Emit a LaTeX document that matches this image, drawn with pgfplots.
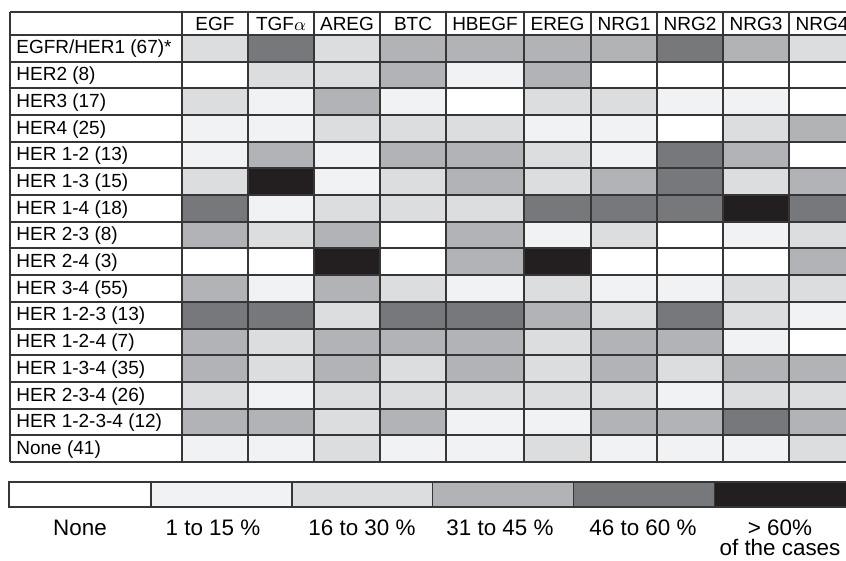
\documentclass[border=0pt]{standalone}
\usepackage{pgfplots}
\pgfplotsset{compat=1.18}
\usepackage{fontspec}
\setmainfont{Liberation Sans}
\definecolor{gridline}{HTML}{363636}

\newcommand{\cellfont}{\fontsize{9.5}{11}\selectfont}
\newcommand{\keyfont}{\fontsize{11.2}{12}\selectfont}

\begin{document}
\begin{tikzpicture}
\begin{axis}[
  scale only axis, width=423pt, height=280.5pt,
  xmin=0, xmax=846, ymin=0, ymax=561, y dir=reverse,
  hide axis,
  colormap={share}{rgb255(0)=(255,255,255) rgb255(1)=(241,242,244)
    rgb255(2)=(220,221,223) rgb255(3)=(178,179,182)
    rgb255(4)=(119,120,124) rgb255(5)=(35,31,32)},
  point meta min=0, point meta max=5,
]
% share of cases per receptor profile (rows) and ligand (columns):
% 0 none, 1 = 1-15%, 2 = 16-30%, 3 = 31-45%, 4 = 46-60%, 5 = >60%
% each vertex carries the class of the cell to its lower right
\addplot[surf, shader=flat corner, mesh/cols=11, point meta=explicit] coordinates {
(182,35)[2] (248,35)[4] (314,35)[2] (380,35)[3] (446,35)[3] (524,35)[3] (591,35)[3] (657,35)[4] (723,35)[3] (789,35)[2] (855,35)[0]
(182,61.69)[0] (248,61.69)[2] (314,61.69)[2] (380,61.69)[3] (446,61.69)[1] (524,61.69)[3] (591,61.69)[0] (657,61.69)[0] (723,61.69)[0] (789,61.69)[0] (855,61.69)[0]
(182,88.38)[2] (248,88.38)[1] (314,88.38)[3] (380,88.38)[1] (446,88.38)[0] (524,88.38)[2] (591,88.38)[2] (657,88.38)[1] (723,88.38)[1] (789,88.38)[0] (855,88.38)[0]
(182,115.06)[1] (248,115.06)[1] (314,115.06)[2] (380,115.06)[2] (446,115.06)[2] (524,115.06)[1] (591,115.06)[1] (657,115.06)[0] (723,115.06)[2] (789,115.06)[3] (855,115.06)[0]
(182,141.75)[1] (248,141.75)[3] (314,141.75)[1] (380,141.75)[3] (446,141.75)[3] (524,141.75)[2] (591,141.75)[1] (657,141.75)[4] (723,141.75)[3] (789,141.75)[0] (855,141.75)[0]
(182,168.44)[2] (248,168.44)[5] (314,168.44)[1] (380,168.44)[2] (446,168.44)[3] (524,168.44)[2] (591,168.44)[3] (657,168.44)[4] (723,168.44)[2] (789,168.44)[3] (855,168.44)[0]
(182,195.13)[4] (248,195.13)[1] (314,195.13)[2] (380,195.13)[2] (446,195.13)[2] (524,195.13)[4] (591,195.13)[4] (657,195.13)[4] (723,195.13)[5] (789,195.13)[4] (855,195.13)[0]
(182,221.81)[3] (248,221.81)[2] (314,221.81)[3] (380,221.81)[0] (446,221.81)[3] (524,221.81)[1] (591,221.81)[2] (657,221.81)[0] (723,221.81)[1] (789,221.81)[2] (855,221.81)[0]
(182,248.5)[0] (248,248.5)[0] (314,248.5)[5] (380,248.5)[0] (446,248.5)[3] (524,248.5)[5] (591,248.5)[0] (657,248.5)[0] (723,248.5)[0] (789,248.5)[3] (855,248.5)[0]
(182,275.19)[3] (248,275.19)[1] (314,275.19)[3] (380,275.19)[2] (446,275.19)[1] (524,275.19)[2] (591,275.19)[1] (657,275.19)[1] (723,275.19)[2] (789,275.19)[2] (855,275.19)[0]
(182,301.88)[4] (248,301.88)[4] (314,301.88)[2] (380,301.88)[4] (446,301.88)[4] (524,301.88)[3] (591,301.88)[2] (657,301.88)[4] (723,301.88)[2] (789,301.88)[1] (855,301.88)[0]
(182,328.56)[3] (248,328.56)[2] (314,328.56)[3] (380,328.56)[3] (446,328.56)[3] (524,328.56)[2] (591,328.56)[3] (657,328.56)[3] (723,328.56)[1] (789,328.56)[0] (855,328.56)[0]
(182,355.25)[3] (248,355.25)[2] (314,355.25)[3] (380,355.25)[2] (446,355.25)[3] (524,355.25)[2] (591,355.25)[3] (657,355.25)[2] (723,355.25)[3] (789,355.25)[3] (855,355.25)[0]
(182,381.94)[2] (248,381.94)[1] (314,381.94)[2] (380,381.94)[2] (446,381.94)[2] (524,381.94)[2] (591,381.94)[2] (657,381.94)[1] (723,381.94)[2] (789,381.94)[2] (855,381.94)[0]
(182,408.63)[3] (248,408.63)[3] (314,408.63)[2] (380,408.63)[3] (446,408.63)[1] (524,408.63)[1] (591,408.63)[3] (657,408.63)[3] (723,408.63)[4] (789,408.63)[3] (855,408.63)[0]
(182,435.31)[1] (248,435.31)[1] (314,435.31)[2] (380,435.31)[1] (446,435.31)[1] (524,435.31)[2] (591,435.31)[1] (657,435.31)[1] (723,435.31)[1] (789,435.31)[2] (855,435.31)[0]
(182,462)[0] (248,462)[0] (314,462)[0] (380,462)[0] (446,462)[0] (524,462)[0] (591,462)[0] (657,462)[0] (723,462)[0] (789,462)[0] (855,462)[0]
};

% colour key
\addplot[surf, shader=flat corner, mesh/cols=7, point meta=explicit] coordinates {
(9,482)[0] (150.7,482)[1] (291.7,482)[2] (432.6,482)[3] (573.5,482)[4] (714.4,482)[5] (855,482)[0]
(9,507)[0] (150.7,507)[0] (291.7,507)[0] (432.6,507)[0] (573.5,507)[0] (714.4,507)[0] (855,507)[0]
};

% table rules
\pgfplotsinvokeforeach{12,35,61.69,88.38,115.06,141.75,168.44,195.13,221.81,248.5,275.19,301.88,328.56,355.25,381.94,408.63,435.31,462}{
  \draw[gridline, line width=1pt] (axis cs:10,#1) -- (axis cs:855,#1);
}
\pgfplotsinvokeforeach{10,182,248,314,380,446,524,591,657,723,789}{
  \draw[gridline, line width=1pt] (axis cs:#1,12) -- (axis cs:#1,462);
}
% key rules
\draw[gridline, line width=0.8pt] (axis cs:9,482) rectangle (axis cs:855,507);
\pgfplotsinvokeforeach{150.7,291.7,432.6,573.5,714.4}{
  \draw[gridline, line width=0.8pt] (axis cs:#1,482) -- (axis cs:#1,507);
}

% column heads
\begin{scope}[every node/.style={anchor=base, font=\cellfont, inner sep=0pt}]
\node at (axis cs:215,30.5) {EGF};
\node at (axis cs:281,30.5) {TGF$\alpha$};
\node at (axis cs:347,30.5) {AREG};
\node at (axis cs:413,30.5) {BTC};
\node at (axis cs:485,30.5) {HBEGF};
\node at (axis cs:557.5,30.5) {EREG};
\node at (axis cs:624,30.5) {NRG1};
\node at (axis cs:690,30.5) {NRG2};
\node at (axis cs:756,30.5) {NRG3};
\node at (axis cs:822,30.5) {NRG4};
\end{scope}

% row heads
\begin{scope}[every node/.style={anchor=base west, font=\cellfont, inner sep=0pt}]
\node at (axis cs:16,54.0) {EGFR/HER1 (67)*};
\node at (axis cs:16,80.7) {HER2 (8)};
\node at (axis cs:16,107.4) {HER3 (17)};
\node at (axis cs:16,134.1) {HER4 (25)};
\node at (axis cs:16,160.8) {HER 1-2 (13)};
\node at (axis cs:16,187.4) {HER 1-3 (15)};
\node at (axis cs:16,214.1) {HER 1-4 (18)};
\node at (axis cs:16,240.8) {HER 2-3 (8)};
\node at (axis cs:16,267.5) {HER 2-4 (3)};
\node at (axis cs:16,294.2) {HER 3-4 (55)};
\node at (axis cs:16,320.9) {HER 1-2-3 (13)};
\node at (axis cs:16,347.6) {HER 1-2-4 (7)};
\node at (axis cs:16,374.3) {HER 1-3-4 (35)};
\node at (axis cs:16,401.0) {HER 2-3-4 (26)};
\node at (axis cs:16,427.6) {HER 1-2-3-4 (12)};
\node at (axis cs:16,454.3) {None (41)};
\end{scope}

% key labels
\begin{scope}[every node/.style={anchor=base, font=\keyfont, inner sep=0pt}]
\node at (axis cs:80,535) {None};
\node at (axis cs:213,535) {1 to 15 \%};
\node at (axis cs:362,535) {16 to 30 \%};
\node at (axis cs:500,535) {31 to 45 \%};
\node at (axis cs:643,535) {46 to 60 \%};
\node at (axis cs:780,535) {> 60\%};
\node at (axis cs:780,555) {of the cases};
\end{scope}
\end{axis}
\pgfresetboundingbox
\path[use as bounding box] (current axis.south west) rectangle (current axis.north east);
\end{tikzpicture}
\end{document}
